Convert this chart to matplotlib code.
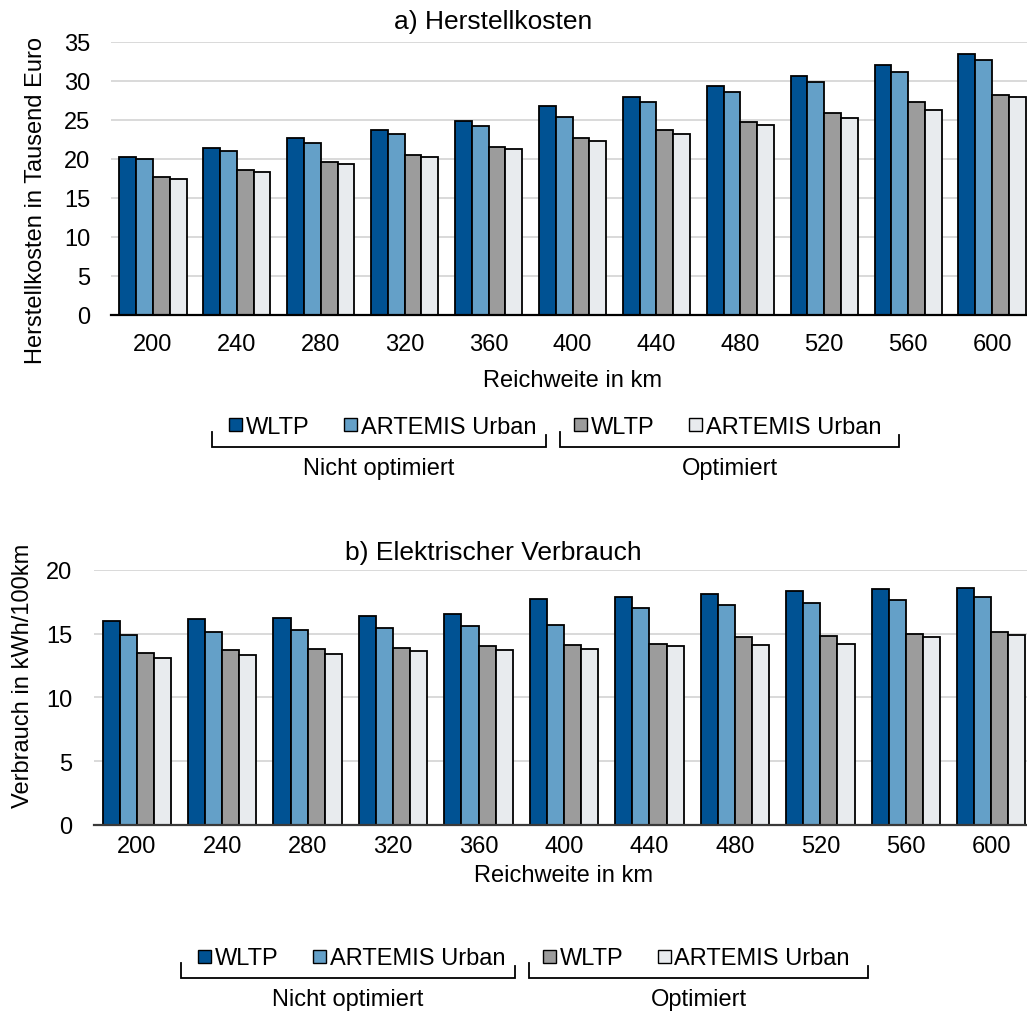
import matplotlib
matplotlib.use("Agg")
import matplotlib.pyplot as plt
from matplotlib.patches import Rectangle
import numpy as np

plt.rcParams['font.family'] = ['Liberation Sans', 'DejaVu Sans']

# ---- data -------------------------------------------------------------
reichweite = ["200", "240", "280", "320", "360", "400", "440", "480", "520", "560", "600"]

series_names = ["WLTP", "ARTEMIS Urban", "WLTP", "ARTEMIS Urban"]
group_names = ["Nicht optimiert", "Optimiert"]

# a) Herstellkosten in Tausend Euro
kosten_wltp_nicht = [20.2, 21.4, 22.6, 23.7, 24.8, 26.8, 27.9, 29.3, 30.6, 32.0, 33.4]
kosten_artemis_nicht = [20.0, 21.0, 22.0, 23.2, 24.2, 25.3, 27.3, 28.5, 29.8, 31.1, 32.6]
kosten_wltp_opt = [17.7, 18.6, 19.6, 20.5, 21.5, 22.7, 23.7, 24.7, 25.8, 27.2, 28.2]
kosten_artemis_opt = [17.4, 18.3, 19.3, 20.2, 21.2, 22.2, 23.2, 24.3, 25.2, 26.3, 27.9]

# b) Elektrischer Verbrauch in kWh/100km
verbrauch_wltp_nicht = [16.0, 16.1, 16.2, 16.4, 16.5, 17.7, 17.9, 18.1, 18.3, 18.5, 18.6]
verbrauch_artemis_nicht = [14.9, 15.1, 15.3, 15.4, 15.6, 15.7, 17.0, 17.2, 17.4, 17.6, 17.9]
verbrauch_wltp_opt = [13.5, 13.7, 13.8, 13.9, 14.0, 14.1, 14.2, 14.7, 14.8, 15.0, 15.1]
verbrauch_artemis_opt = [13.1, 13.3, 13.4, 13.6, 13.7, 13.8, 14.0, 14.1, 14.2, 14.7, 14.9]

colors = ["#005293", "#64A0C8", "#9C9C9C", "#E8EBEE"]

W, H = 1027, 1012
fig = plt.figure(figsize=(W / 100, H / 100), dpi=100)


def fx(x):
    return x / W


def fy(y):
    return 1 - y / H


FS = 17
FS_TITLE = 19


def bar_panel(rect, values, ymax, step, ylabel, axis_color, ytick_pad, xtick_pad):
    ax = fig.add_axes(rect)
    x = np.arange(len(reichweite))
    width = 0.2
    for i, (vals, c) in enumerate(zip(values, colors)):
        ax.bar(x + (i - 1.5) * width, vals, width, color=c,
               edgecolor="black", linewidth=1.3, zorder=3)
    ax.set_xlim(-0.5, len(reichweite) - 0.5)
    ax.set_ylim(0, ymax)
    ax.set_yticks(np.arange(0, ymax + 0.1, step))
    ax.set_xticks(x)
    ax.set_xticklabels(reichweite)
    ax.yaxis.grid(True, color="#d9d9d9", linewidth=1.4, zorder=0)
    ax.set_axisbelow(True)
    for s in ["top", "right", "left"]:
        ax.spines[s].set_visible(False)
    ax.spines["bottom"].set_color(axis_color)
    ax.spines["bottom"].set_linewidth(1.6)
    ax.spines["bottom"].set_zorder(4)
    ax.tick_params(axis="both", length=0, labelsize=FS)
    ax.tick_params(axis="y", pad=ytick_pad)
    ax.tick_params(axis="x", pad=xtick_pad)
    return ax


# ---- panel a ----------------------------------------------------------
ax_a = bar_panel([fx(111), fy(315.5), fx(923), (315.5 - 42.7) / H],
                 [kosten_wltp_nicht, kosten_artemis_nicht, kosten_wltp_opt, kosten_artemis_opt],
                 35, 5, "Herstellkosten in Tausend Euro", "black", 15, 13)

# ---- panel b ----------------------------------------------------------
ax_b = bar_panel([fx(94), fy(826), fx(940), (826 - 570.7) / H],
                 [verbrauch_wltp_nicht, verbrauch_artemis_nicht, verbrauch_wltp_opt, verbrauch_artemis_opt],
                 20, 5, "Verbrauch in kWh/100km", "#3a3a3a", 15.5, 7)

# titles and axis labels
fig.text(fx(493), fy(29), "a) Herstellkosten", ha="center", va="baseline", fontsize=FS_TITLE)
fig.text(fx(493), fy(560), "b) Elektrischer Verbrauch", ha="center", va="baseline", fontsize=FS_TITLE)
fig.text(fx(572.5), fy(386.7), "Reichweite in km", ha="center", va="baseline", fontsize=FS)
fig.text(fx(564), fy(882), "Reichweite in km", ha="center", va="baseline", fontsize=FS)
fig.text(fx(36), fy(200), "Herstellkosten in Tausend Euro", rotation=90,
         ha="center", va="center", fontsize=FS)
fig.text(fx(23), fy(676), "Verbrauch in kWh/100km", rotation=90,
         ha="center", va="center", fontsize=FS)

# ---- grouped legends with brackets -----------------------------------
ov = fig.add_axes([0, 0, 1, 1], zorder=10)
ov.set_xlim(0, W)
ov.set_ylim(H, 0)
ov.axis("off")
ov.patch.set_visible(False)

# horizontal offsets of the legend pieces relative to the left bracket end
square_dx = [17, 132, 362, 477]
bracket_spans = [(0, 334), (348, 687)]
group_label_dx = [167, 518]


def grouped_legend(x0, y0):
    sq = 13
    for dx, c, name in zip(square_dx, colors, series_names):
        ov.add_patch(Rectangle((x0 + dx, y0 - sq / 2), sq, sq, facecolor=c,
                               edgecolor="black", linewidth=1.0))
        ov.text(x0 + dx + sq + 4, y0 + 8.3, name, ha="left", va="baseline", fontsize=FS)
    for (a, b), gname, gdx in zip(bracket_spans, group_names, group_label_dx):
        ov.plot([x0 + a, x0 + a, x0 + b, x0 + b],
                [y0 + 7, y0 + 22, y0 + 22, y0 + 10], color="black", linewidth=1.3,
                solid_joinstyle="miter")
        ov.text(x0 + gdx, y0 + 49, gname, ha="center", va="baseline", fontsize=FS)


grouped_legend(211.7, 425.7)
grouped_legend(180.5, 957)

fig.savefig("out.png", dpi=100)
